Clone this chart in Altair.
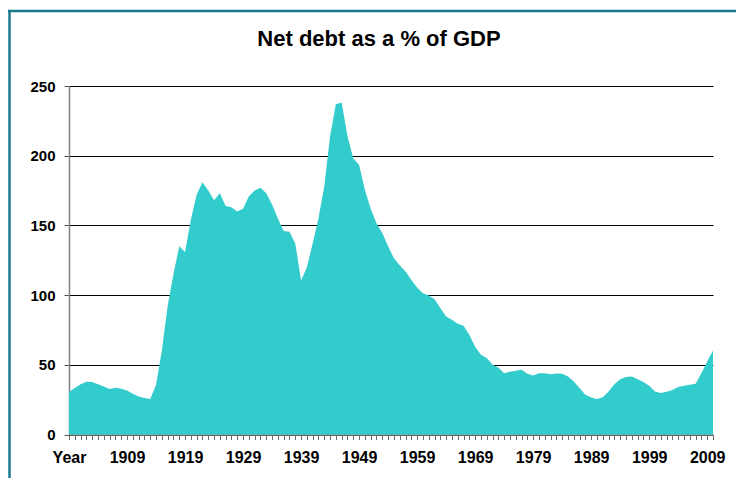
import altair as alt
import pandas as pd

# Data (first category is labelled "Year")
years = list(range(1899, 2011))
net_debt = [
    30.4, 33.3, 36.1, 37.8, 37.6, 36.1, 34.4, 32.6, 33.5, 32.8,   # 1899-1908
    31.6, 29.2, 27.3, 26.1, 25.4, 35.5, 60.0, 92.0, 115.0, 135.0,  # 1909-1918
    131.0, 154.0, 172.0, 181.0, 175.0, 168.0, 173.0, 164.0, 163.0, 160.0,  # 1919-1928
    162.0, 171.0, 175.0, 177.0, 173.0, 165.0, 155.0, 146.0, 145.5, 137.0,  # 1929-1938
    110.5, 120.0, 137.0, 155.0, 178.0, 214.0, 237.0, 238.0, 214.0, 198.0,  # 1939-1948
    193.5, 175.5, 162.0, 151.5, 144.5, 135.0, 126.5, 121.5, 117.0, 111.0,  # 1949-1958
    105.5, 101.4, 99.7, 97.0, 90.7, 84.6, 82.3, 79.4, 78.0, 71.5,  # 1959-1968
    63.0, 57.2, 54.8, 50.0, 48.0, 44.0, 45.0, 45.7, 46.4, 43.5,  # 1969-1978
    42.3, 44.0, 44.0, 43.3, 43.8, 43.5, 41.6, 38.0, 33.3, 28.5,  # 1979-1988
    26.5, 25.4, 26.8, 30.8, 36.1, 39.7, 41.2, 41.6, 39.7, 37.6,  # 1989-1998
    34.9, 30.8, 29.7, 30.6, 32.0, 34.0, 34.9, 35.7, 36.4, 44.0,  # 1999-2008
    52.4, 60.3,  # 2009-2010
]
y_ticks = [0, 50, 100, 150, 200, 250]
title_text = "Net debt as a % of GDP"

df = pd.DataFrame({"year": years, "debt": net_debt})

FONT = "Liberation Sans"

label_expr = (
    "datum.value == 1899 ? 'Year' : "
    "((datum.value - 1899) % 10 == 0 ? '' + datum.value : '')"
)

area = alt.Chart(df).mark_area(color="#33CCCC", interpolate="linear").encode(
    x=alt.X(
        "year:Q",
        scale=alt.Scale(domain=[1899, 2010], nice=False, zero=False),
        axis=alt.Axis(
            values=years,
            labelExpr=label_expr,
            title=None,
            grid=False,
            labelOverlap=False,
            labelFlush=False,
            labelFont=FONT,
            labelFontSize=16,
            labelFontWeight="bold",
            labelColor="black",
            labelPadding=10,
            tickSize=5,
            tickColor="#666666",
            domainColor="#7f7f7f",
            domainWidth=1.5,
        ),
    ),
    y=alt.Y(
        "debt:Q",
        scale=alt.Scale(domain=[0, 250], nice=False),
        axis=alt.Axis(
            values=y_ticks,
            title=None,
            grid=True,
            gridColor="#000000",
            gridWidth=1,
            labelFlush=False,
            labelFont=FONT,
            labelFontSize=15,
            labelFontWeight="bold",
            labelColor="black",
            labelPadding=9,
            tickSize=5,
            tickColor="#555555",
            domainColor="#7f7f7f",
            domainWidth=1.5,
        ),
    ),
)

border_df = pd.DataFrame({"k": [0]})
border_color = "#1B7B8E"
top_border = alt.Chart(border_df).mark_rule(color=border_color, strokeWidth=2.5).encode(
    x=alt.value(-61), x2=alt.value(667), y=alt.value(-75)
)
left_border = alt.Chart(border_df).mark_rule(color=border_color, strokeWidth=2.5).encode(
    x=alt.value(-59.5), y=alt.value(-76), y2=alt.value(392)
)

chart = alt.layer(area, top_border, left_border).properties(
    width=644,
    height=348.5,
    padding={"left": 61, "top": 78, "right": 23, "bottom": 43},
    autosize=alt.AutoSizeParams(type="none"),
    title=alt.TitleParams(
        text=title_text,
        font=FONT,
        fontSize=22,
        fontWeight="bold",
        color="black",
        anchor="middle",
        dx=-12,
        offset=-42,
    ),
).configure_view(stroke=None)

chart.save("out.html", embed_options={"renderer": "svg", "actions": False})
